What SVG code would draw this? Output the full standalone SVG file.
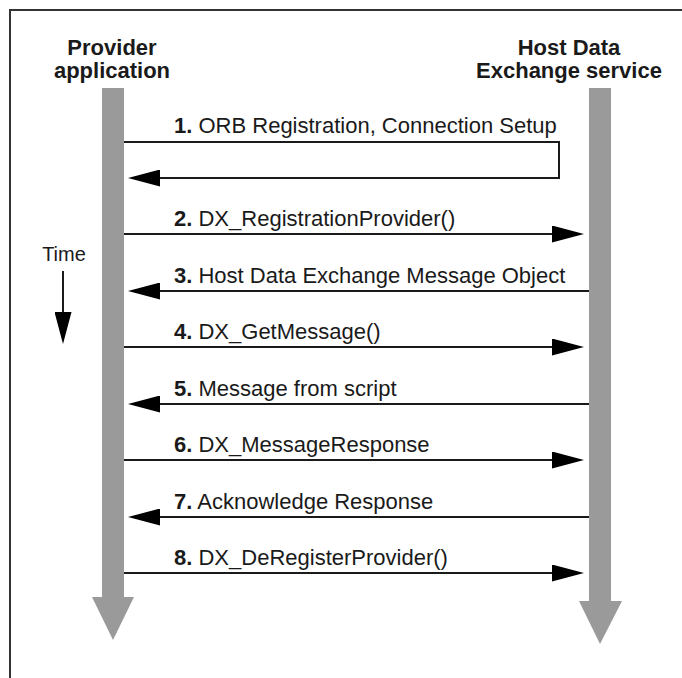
<svg xmlns="http://www.w3.org/2000/svg" width="682" height="678" viewBox="0 0 682 678">
<style>
text{font-family:"Liberation Sans",Arial,Helvetica,sans-serif;fill:#1a1a1a}
.hdr{font-size:22px;font-weight:bold;text-anchor:middle}
.lbl{font-size:22px}
.num{font-weight:bold}
.life{fill:#9a9a9a}
.msg{stroke:#1a1a1a;stroke-width:2;fill:none}
</style>
<defs>
<marker id="ah" markerUnits="userSpaceOnUse" markerWidth="32" markerHeight="17" refX="26" refY="8.5" orient="auto">
<path d="M0,0 L32,8.5 L0,17 z" fill="#000"/>
</marker>
</defs>
<rect x="10" y="10" width="720" height="720" fill="#fff" stroke="#333" stroke-width="2"/>

<g id="provider">
<text class="hdr" x="112" y="55">Provider</text>
<text class="hdr" x="112" y="78">application</text>
<rect class="life" x="102" y="88" width="22" height="510"/>
<polygon class="life" points="92,597 134,597 113,640"/>
</g>

<g id="hostdx">
<text class="hdr" x="569" y="55">Host Data</text>
<text class="hdr" x="569" y="78">Exchange service</text>
<rect class="life" x="589" y="88" width="22" height="514"/>
<polygon class="life" points="579,601 622,601 600,644"/>
</g>

<g id="time">
<text x="64" y="261" style="font-size:20px;text-anchor:middle">Time</text>
<line class="msg" x1="63" y1="271" x2="63" y2="338" marker-end="url(#ah)"/>
</g>

<g id="connectors">
<path class="msg" d="M124,142 H559 V178 H134" marker-end="url(#ah)"/>
<line class="msg" x1="124" y1="234" x2="578" y2="234" marker-end="url(#ah)"/>
<line class="msg" x1="589" y1="291" x2="134" y2="291" marker-end="url(#ah)"/>
<line class="msg" x1="124" y1="347" x2="578" y2="347" marker-end="url(#ah)"/>
<line class="msg" x1="589" y1="404" x2="134" y2="404" marker-end="url(#ah)"/>
<line class="msg" x1="124" y1="460" x2="578" y2="460" marker-end="url(#ah)"/>
<line class="msg" x1="589" y1="517" x2="134" y2="517" marker-end="url(#ah)"/>
<line class="msg" x1="124" y1="573" x2="578" y2="573" marker-end="url(#ah)"/>
</g>

<g id="labels">
<text class="lbl" x="174" y="133"><tspan class="num">1.</tspan> ORB Registration, Connection Setup</text>
<text class="lbl" x="174" y="226"><tspan class="num">2.</tspan> DX_RegistrationProvider()</text>
<text class="lbl" x="174" y="283"><tspan class="num">3.</tspan> Host Data Exchange Message Object</text>
<text class="lbl" x="174" y="339"><tspan class="num">4.</tspan> DX_GetMessage()</text>
<text class="lbl" x="174" y="396"><tspan class="num">5.</tspan> Message from script</text>
<text class="lbl" x="174" y="452"><tspan class="num">6.</tspan> DX_MessageResponse</text>
<text class="lbl" x="174" y="509"><tspan class="num">7.</tspan> Acknowledge Response</text>
<text class="lbl" x="174" y="565"><tspan class="num">8.</tspan> DX_DeRegisterProvider()</text>
</g>
</svg>
